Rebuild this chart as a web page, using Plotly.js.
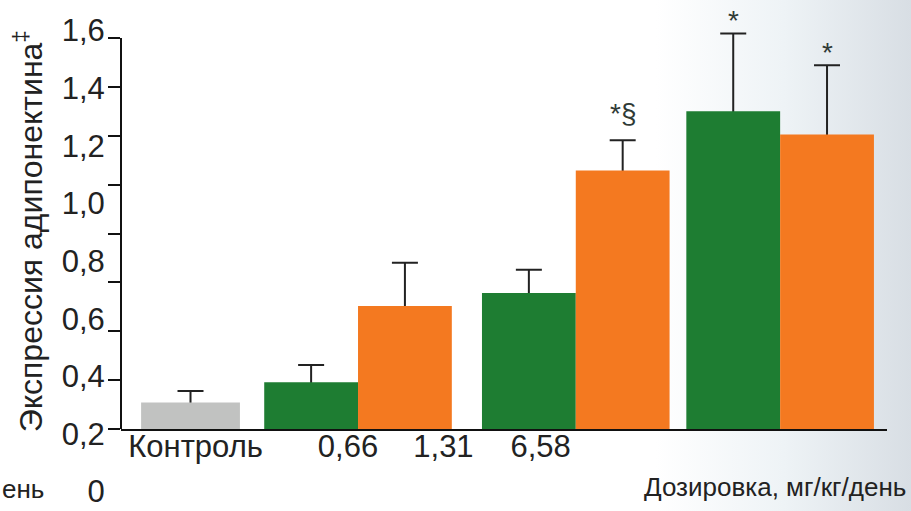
<!DOCTYPE html>
<html>
<head>
<meta charset="utf-8">
<script src="https://cdn.plot.ly/plotly-3.0.1.min.js"></script>
<style>
  html, body { margin: 0; padding: 0; }
  body { width: 911px; height: 511px; overflow: hidden;
         background: linear-gradient(to right, #ffffff 0%, #ffffff 72%, #eef3f6 86%, #d8dee4 100%); }
  #chart { width: 911px; height: 511px; }
</style>
</head>
<body>
<div id="chart"></div>
<script>
// ---- data ----
const doseLabels   = ['Контроль', '0,66', '1,31', '6,58'];
const controlValue = [0.32];
const controlError = [0.04];
const greenValues  = [0.39, 0.70, 1.33];
const greenErrors  = [0.06, 0.08, 0.27];
const orangeValues = [0.655, 1.125, 1.25];
const orangeErrors = [0.15, 0.105, 0.24];
const greenMarks   = ['', '', '*'];
const orangeMarks  = ['', '*§', '*'];
const yTickValues  = [0, 0.2, 0.4, 0.6, 0.8, 1.0, 1.2, 1.4, 1.6];
const yTickLabels  = ['0', '0,2', '0,4', '0,6', '0,8', '1,0', '1,2', '1,4', '1,6'];
const yTitle = 'Экспрессия адипонектина<sup>‡</sup>';
const xTitle = 'Дозировка, мг/кг/день';
const xTitleCut = 'ень';

// ---- layout helpers ----
const groupPos = [0, 1, 2.3, 3.52];        // group centres on the x axis
const labelPos = [0.03, 0.94, 1.51, 2.09]; // x tick label positions
const barW = 0.56;
const ctrlW = 0.59;
const FONT = 'Liberation Sans, Arial, sans-serif';
const TXT = '#222222';
const MARK = '#2f3a36';
const GREEN = '#1e7d32', ORANGE = '#f47920', GREY = '#c1c2c1';

// plot area: pixels 28..506 vertically
const pTop = 28, pBot = 506, pH = pBot - pTop;
const py = (p) => (pBot - p) / pH;

const tickRange = [0.228, 1.584];            // span of the drawn y axis line
const mainRange = [0.228, 1.619];            // up to the plot-area top
const mainTicks = Array.from({length: 9}, (_, k) => tickRange[0] + k * (tickRange[1] - tickRange[0]) / 8);

const errStyle = (arr) => ({type: 'data', array: arr, symmetric: true,
  color: '#222', thickness: 2, width: 13});

const grpX = groupPos.slice(1);
const traces = [
  // transparent carriers of the error bars (drawn first, hidden below by the coloured bars)
  {type: 'bar', x: [groupPos[0]], y: controlValue, width: ctrlW, marker: {color: 'rgba(0,0,0,0)'},
   error_y: errStyle(controlError), hoverinfo: 'skip'},
  {type: 'bar', x: grpX, y: greenValues, width: barW, offset: -barW, marker: {color: 'rgba(0,0,0,0)'},
   error_y: errStyle(greenErrors), hoverinfo: 'skip'},
  {type: 'bar', x: grpX, y: orangeValues, width: barW, offset: 0, marker: {color: 'rgba(0,0,0,0)'},
   error_y: errStyle(orangeErrors), hoverinfo: 'skip'},
  // coloured bars
  {type: 'bar', name: 'Контроль', x: [groupPos[0]], y: controlValue, width: ctrlW,
   marker: {color: GREY}, hoverinfo: 'y'},
  {type: 'bar', name: 'Серия 1', x: grpX, y: greenValues, width: barW, offset: -barW,
   marker: {color: GREEN}, hoverinfo: 'y'},
  {type: 'bar', name: 'Серия 2', x: grpX, y: orangeValues, width: barW, offset: 0,
   marker: {color: ORANGE}, hoverinfo: 'y'},
  {type: 'scatter', x: [], y: [], yaxis: 'y2', showlegend: false, hoverinfo: 'skip'}
];

const annotations = [];
const addMark = (m, x, y) => annotations.push({x: x, y: y, xref: 'x', yref: 'y', text: m,
  showarrow: false, yanchor: 'bottom', yshift: m.indexOf('§') >= 0 ? 9 : -5,
  font: {family: FONT, size: 28, color: MARK}});
greenMarks.forEach((m, i) => { if (m) addMark(m, grpX[i] - barW / 2, greenValues[i] + greenErrors[i]); });
orangeMarks.forEach((m, i) => { if (m) addMark(m, grpX[i] + barW / 2, orangeValues[i] + orangeErrors[i]); });

annotations.push({xref: 'paper', yref: 'paper', x: -0.121, y: py(231), text: yTitle, textangle: -90,
  showarrow: false, xanchor: 'center', yanchor: 'middle', font: {family: FONT, size: 32, color: TXT}});
annotations.push({xref: 'paper', yref: 'paper', x: 1.027, y: py(487), text: xTitle,
  showarrow: false, xanchor: 'right', yanchor: 'middle', font: {family: FONT, size: 26, color: TXT}});
annotations.push({xref: 'paper', yref: 'paper', x: -121 / 766, y: py(489), text: xTitleCut,
  showarrow: false, xanchor: 'left', yanchor: 'middle', font: {family: FONT, size: 26, color: TXT}});

const layout = {
  width: 911, height: 511,
  margin: {l: 121, r: 24, t: pTop, b: 511 - pBot},
  paper_bgcolor: 'rgba(0,0,0,0)', plot_bgcolor: 'rgba(0,0,0,0)',
  showlegend: false, barmode: 'overlay',
  font: {family: FONT, color: TXT},
  xaxis: {range: [-0.415, 4.158], showgrid: false, zeroline: false,
    showline: true, linecolor: '#111', linewidth: 2, anchor: 'y',
    tickmode: 'array', tickvals: labelPos, ticktext: doseLabels, ticks: '',
    ticklabelstandoff: -11,
    tickfont: {family: FONT, size: 31, color: TXT}},
  yaxis: {domain: [py(429), 1], range: mainRange, showgrid: false, zeroline: false,
    showline: false,
    tickmode: 'array', tickvals: mainTicks, ticks: 'outside', ticklen: 12, tickwidth: 2, tickcolor: '#111',
    showticklabels: false},
  yaxis2: {domain: [py(494.6 + 0.02 * 288.2 - 3), py(30.5)], range: [-0.02, 1.6], anchor: 'free', position: 0,
    showgrid: false, zeroline: false, showline: false,
    tickmode: 'array', tickvals: yTickValues, ticktext: yTickLabels,
    ticks: 'outside', ticklen: 10, tickcolor: 'rgba(0,0,0,0)', ticklabeloverflow: 'allow',
    tickfont: {family: FONT, size: 31, color: TXT}},
  shapes: [{type: 'line', xref: 'x domain', yref: 'y', x0: 0, x1: 0, y0: tickRange[0], y1: tickRange[1],
    line: {color: '#111', width: 2}}],
  annotations: annotations
};

Plotly.newPlot('chart', traces, layout, {staticPlot: true});
</script>
</body>
</html>
